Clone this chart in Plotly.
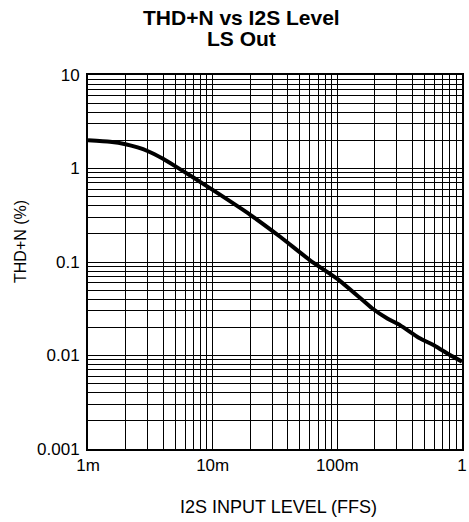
import plotly.graph_objects as go

# I2S input level (FFS) and THD+N (%)
level = [0.001, 0.0015, 0.002, 0.0025, 0.003, 0.004, 0.005, 0.007, 0.01, 0.02, 0.035, 0.06, 0.1,
         0.15, 0.19, 0.25, 0.32, 0.45, 0.6, 0.8, 1.0]
thdn = [2.0, 1.93, 1.82, 1.68, 1.54, 1.27, 1.06, 0.8, 0.59, 0.32, 0.185, 0.105, 0.066,
        0.042, 0.032, 0.025, 0.021, 0.0155, 0.0128, 0.0101, 0.0086]

x_ticks = [0.001, 0.01, 0.1, 1]
x_labels = ["1m", "10m", "100m", "1"]
y_ticks = [0.001, 0.01, 0.1, 1, 10]
y_labels = ["0.001", "0.01", "0.1", "1", "10"]

FONT = "Liberation Sans, Arial, sans-serif"

fig = go.Figure()
fig.add_trace(go.Scatter(x=level, y=thdn, mode="lines",
                         line=dict(color="black", width=4, shape="spline", smoothing=0.5),
                         showlegend=False, hoverinfo="skip"))

axis_common = dict(type="log", showgrid=True, gridcolor="black", gridwidth=1.2,
                   showline=True, linecolor="black", linewidth=2, mirror=True,
                   ticks="", zeroline=False, automargin=False,
                   tickfont=dict(family=FONT, size=17, color="black"),
                   minor=dict(dtick="D1", showgrid=True, gridcolor="black", gridwidth=1.2, ticks=""))

fig.update_xaxes(range=[-3.00001, 0.00001], tickvals=x_ticks, ticktext=x_labels, **axis_common)
fig.update_yaxes(range=[-3.00001, 1.00001], tickvals=y_ticks, ticktext=y_labels,
                 ticklabelstandoff=3, **axis_common)

fig.add_annotation(text="<b>THD+N vs I2S Level</b>", xref="paper", yref="paper",
                   x=0.41, y=1.153, xanchor="center", yanchor="middle", showarrow=False,
                   font=dict(family=FONT, size=21, color="black"))
fig.add_annotation(text="<b>LS Out</b>", xref="paper", yref="paper",
                   x=0.41, y=1.097, xanchor="center", yanchor="middle", showarrow=False,
                   font=dict(family=FONT, size=21, color="black"))
fig.add_annotation(text="I2S INPUT LEVEL (FFS)", xref="paper", yref="paper",
                   x=0.51, y=-0.155, xanchor="center", yanchor="middle", showarrow=False,
                   font=dict(family=FONT, size=18, color="black"))
fig.add_annotation(text="THD+N (%)", xref="paper", yref="paper", textangle=-90,
                   x=-0.182, y=0.556, xanchor="center", yanchor="middle", showarrow=False,
                   font=dict(family=FONT, size=16, color="black"))

fig.update_layout(width=469, height=522, margin=dict(l=88, r=7, t=75, b=73, autoexpand=False),
                  paper_bgcolor="white", plot_bgcolor="white")

# drop the default 8px body margin so the figure fills the window exactly
fig.write_html("out.html", config={"displayModeBar": False},
               post_script="document.body.style.margin='0';document.body.style.overflow='hidden';")
